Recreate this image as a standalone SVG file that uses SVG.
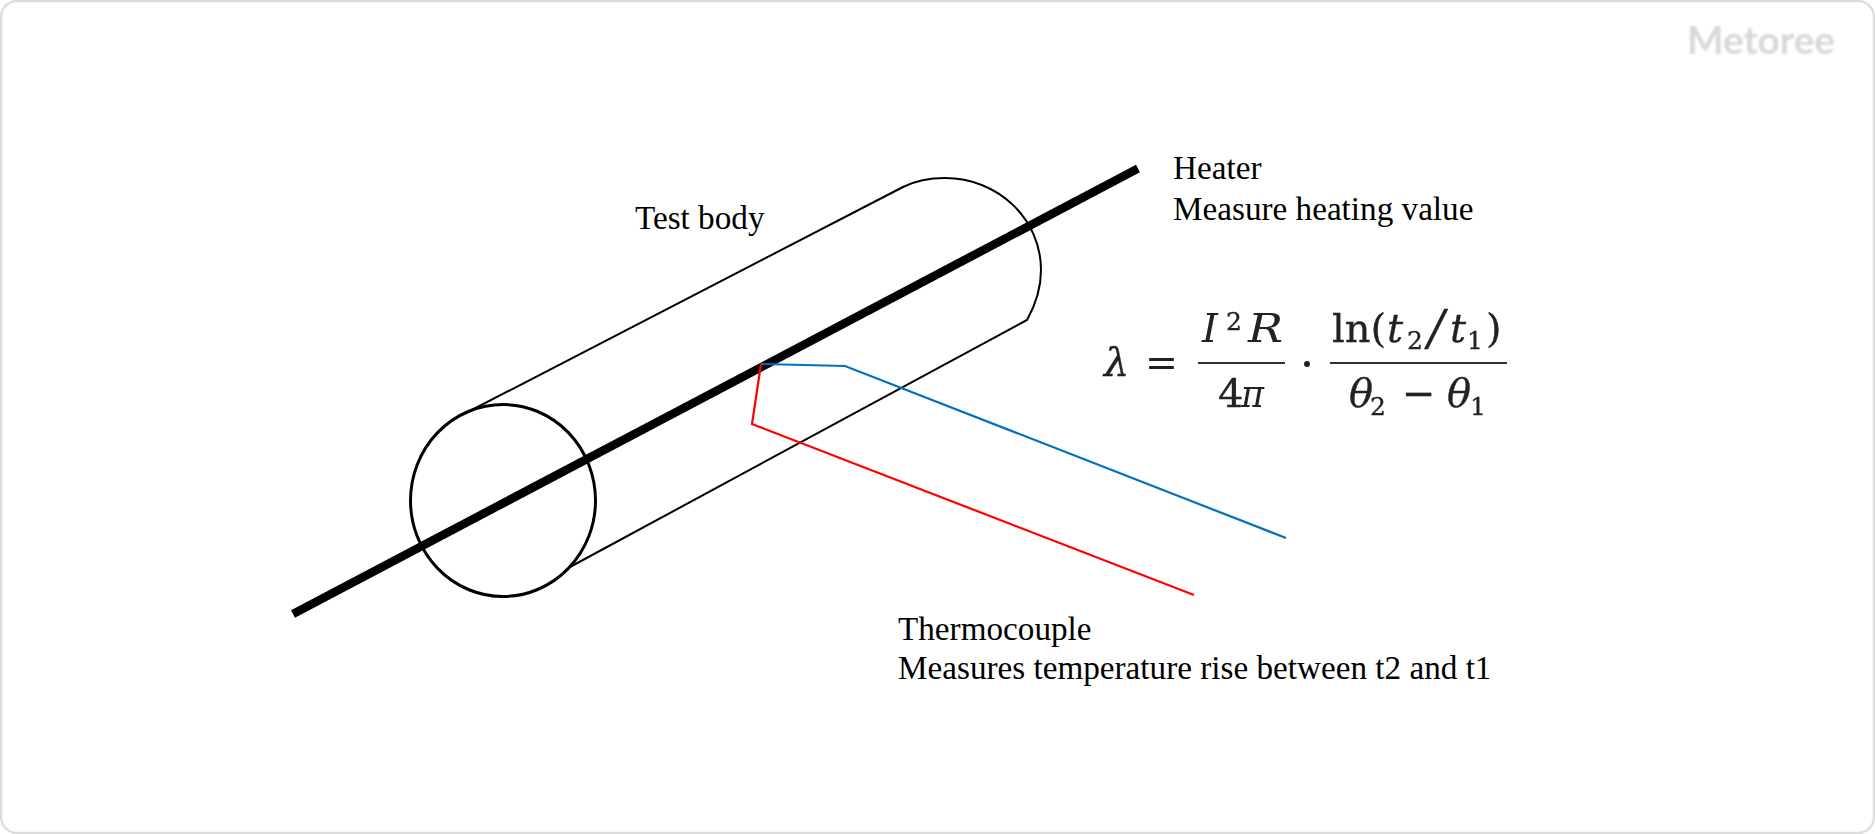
<svg xmlns="http://www.w3.org/2000/svg" width="1875" height="834" viewBox="0 0 1875 834">
<style>
.lbl{font-family:"Liberation Serif","Times New Roman",serif;font-size:33.2px;fill:#000}
.m{font-family:"DejaVu Serif","Liberation Serif",serif;fill:#222;stroke:#222;stroke-width:0.3px;font-size:40px}
.n{stroke:none}
.s{font-size:25px}
.i{font-style:italic}
.t{fill:none;stroke:#000;stroke-width:2}
</style>
<defs><filter id="soft" x="-5%" y="-5%" width="110%" height="110%"><feGaussianBlur stdDeviation="0.7"/></filter>
<filter id="softer" x="-5%" y="-20%" width="110%" height="140%"><feGaussianBlur stdDeviation="1"/></filter></defs>
<rect id="frame" x="1" y="1" width="1873" height="832" rx="16" fill="#fff" stroke="#ddd" stroke-width="2.5"/>
<g id="logo"><text x="1687" y="54" font-family="Lato,'Open Sans',sans-serif" font-size="38" font-weight="700" fill="#d8d8d8" filter="url(#softer)" textLength="148" lengthAdjust="spacingAndGlyphs">Metoree</text></g>
<g id="test-body">
<path class="t" d="M466 413L903 187C915 181 930 178 945 178C998 178 1041 219 1041 270C1041 288 1036 304 1027 320L570 567"/>
<ellipse cx="503" cy="500.5" rx="92.5" ry="96" fill="none" stroke="#000" stroke-width="3"/>
<text class="lbl" x="635" y="229">Test body</text>
</g>
<g id="heater">
<line x1="293" y1="614" x2="1138" y2="168.5" stroke="#000" stroke-width="8.5"/>
<text class="lbl" x="1173" y="179">Heater</text>
<text class="lbl" x="1173" y="220">Measure heating value</text>
</g>
<g id="connectors">
<path id="thermocouple-blue" d="M761 364L845 366L1286 538" fill="none" stroke="#0070c0" stroke-width="2.2"/>
<path id="thermocouple-red" d="M761 364L752 424L1194 595" fill="none" stroke="#ff0000" stroke-width="2.2"/>
</g>
<g id="thermocouple-label">
<text class="lbl" x="898" y="640">Thermocouple</text>
<text class="lbl" x="898" y="679">Measures temperature rise between t2 and t1</text>
</g>
<g id="formula" filter="url(#soft)">
<text class="m i" x="1104" y="376">λ</text>
<text class="m n" x="1145" y="376" textLength="33" lengthAdjust="spacingAndGlyphs">=</text>
<text class="m i n" x="1202" y="342">I</text>
<text class="m s" x="1226" y="330">2</text>
<text class="m i n" x="1248" y="342" textLength="35" lengthAdjust="spacingAndGlyphs">R</text>
<rect x="1198" y="362" width="87" height="2" fill="#333"/>
<text class="m" x="1218" y="407">4</text>
<text class="m i n" x="1241" y="407" textLength="23" lengthAdjust="spacingAndGlyphs">π</text>
<circle cx="1307" cy="364" r="3" fill="#222"/>
<text class="m" x="1332" y="342">ln(</text>
<text class="m i" x="1387" y="342">t</text>
<text class="m s" x="1407" y="349">2</text>
<text class="m i" x="1428" y="345" style="font-size:48px">/</text>
<text class="m i" x="1450" y="342">t</text>
<text class="m s" x="1467" y="349">1</text>
<text class="m" x="1486" y="342">)</text>
<rect x="1330" y="362" width="177" height="2" fill="#333"/>
<text class="m i" x="1349" y="407">θ</text>
<text class="m s" x="1370" y="415">2</text>
<text class="m" x="1402" y="407">−</text>
<text class="m i" x="1447" y="407">θ</text>
<text class="m s" x="1470" y="415">1</text>
</g>
</svg>
